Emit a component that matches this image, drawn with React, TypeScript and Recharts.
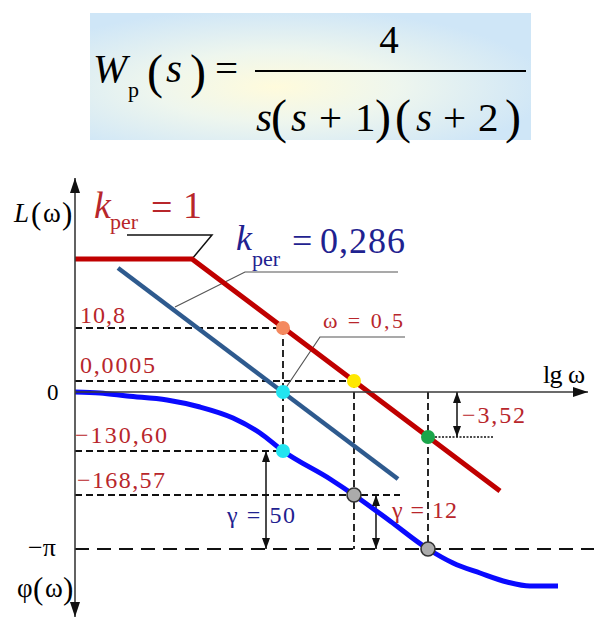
import React from 'react';
import { ComposedChart, Line, Scatter, ReferenceLine, XAxis, YAxis } from 'recharts';

// Schematic units: x runs along lg ω, y is the level on the shared L(ω)/φ(ω) axis.
const X_DOMAIN: [number, number] = [-7.5, 51.9];
const Y_DOMAIN: [number, number] = [-22.7, 39.2];

// Characteristic frequencies (lg ω positions)
const W_CUT = 20.8; // crossover of the k = 0,286 characteristic
const W_HALF = 27.9; // ω = 0,5
const W_PI = 35.3; // phase reaches −π

// Characteristic levels
const L_108 = 6.4;
const L_0005 = 1.1;
const L_M352 = -4.5;
const P_13060 = -5.9;
const P_16857 = -10.3;
const P_PI = -15.7;

// Asymptotic LAFC for k = 1
const lafcK1 = [
  { x: 0, y: 13.3 },
  { x: 11.7, y: 13.3 },
  { x: 42.5, y: -9.9 },
];

// Asymptotic LAFC for k = 0,286
const lafcK0286 = [
  { x: 4.3, y: 12.4 },
  { x: 32.3, y: -8.7 },
];

// Phase characteristic φ(ω)
const phase = [
  { x: 0, y: 0 },
  { x: 2.5, y: -0.1 },
  { x: 5.2, y: -0.4 },
  { x: 9.2, y: -0.8 },
  { x: 12.5, y: -1.5 },
  { x: 15.8, y: -2.6 },
  { x: 18.5, y: -4.1 },
  { x: W_CUT, y: P_13060 },
  { x: 25.5, y: -8.7 },
  { x: W_HALF, y: P_16857 },
  { x: 31.5, y: -12.9 },
  { x: W_PI, y: P_PI },
  { x: 37.8, y: -17.1 },
  { x: 40.5, y: -18.1 },
  { x: 43.2, y: -19.0 },
  { x: 45.5, y: -19.4 },
  { x: 48.3, y: -19.4 },
];

// Marked points
const markers = [
  { x: W_CUT, y: L_108, fill: '#f4895f', stroke: 'none' },
  { x: W_HALF, y: L_0005, fill: '#ffe800', stroke: 'none' },
  { x: W_CUT, y: 0, fill: '#22e4f0', stroke: 'none' },
  { x: W_CUT, y: P_13060, fill: '#22e4f0', stroke: 'none' },
  { x: W_PI, y: L_M352, fill: '#1ba54a', stroke: 'none' },
  { x: W_HALF, y: P_16857, fill: '#ababab', stroke: '#333' },
  { x: W_PI, y: P_PI, fill: '#ababab', stroke: '#333' },
];

// Axis extents
const AXIS_TOP = 21.4;
const AXIS_BOTTOM = -22.5;
const AXIS_RIGHT = 51.3;

// Dimension arrows (x positions)
const DIM_352 = 38.2;
const DIM_GAMMA50 = 19.1;
const DIM_GAMMA12 = 30.1;

// Arrow tips; dir in screen degrees (0 = right, 90 = down, -90 = up)
const arrowTips = [
  { x: 0, y: AXIS_TOP, dir: -90, kind: 'axis' },
  { x: 0, y: AXIS_BOTTOM, dir: 90, kind: 'axis' },
  { x: AXIS_RIGHT, y: 0, dir: 0, kind: 'axis' },
  { x: DIM_352, y: 0, dir: -90, kind: 'dim' },
  { x: DIM_352, y: L_M352, dir: 90, kind: 'dim' },
  { x: DIM_GAMMA50, y: P_13060, dir: -90, kind: 'dim' },
  { x: DIM_GAMMA50, y: P_PI, dir: 90, kind: 'dim' },
  { x: DIM_GAMMA12, y: P_16857, dir: -90, kind: 'dim' },
  { x: DIM_GAMMA12, y: P_PI, dir: 90, kind: 'dim' },
];

// Callout leaders
const leaderK1 = [
  { x: 5.2, y: 15.7 },
  { x: 13.7, y: 15.7 },
  { x: 11.7, y: 13.3 },
];
const leaderK0286 = [
  { x: 10.0, y: 8.5 },
  { x: 17.0, y: 12.0 },
  { x: 32.3, y: 12.0 },
];
const leaderOmega = [
  { x: W_CUT, y: 0 },
  { x: 24.5, y: 5.5 },
  { x: 33.0, y: 5.5 },
];

const RED = '#c00000';
const RED_TEXT = '#b8262b';
const NAVY_TEXT = '#1f2290';
const SERIF = "'Liberation Serif', 'Times New Roman', Times, serif";

const ARROW_SIZE: Record<string, { len: number; half: number }> = {
  axis: { len: 15, half: 5 },
  dim: { len: 11, half: 4 },
};

const Arrowhead = (props: any) => {
  const { cx, cy, payload } = props;
  if (cx == null || cy == null) return null;
  const a = (payload.dir * Math.PI) / 180;
  const { len, half } = ARROW_SIZE[payload.kind];
  const bx = cx - Math.cos(a) * len;
  const by = cy - Math.sin(a) * len;
  const px = -Math.sin(a) * half;
  const py = Math.cos(a) * half;
  return (
    <polygon
      points={`${cx},${cy} ${bx + px},${by + py} ${bx - px},${by - py}`}
      fill="#111"
    />
  );
};

const Marker = (props: any) => {
  const { cx, cy, payload } = props;
  if (cx == null || cy == null) return null;
  return (
    <circle
      cx={cx}
      cy={cy}
      r={7}
      fill={payload.fill}
      stroke={payload.stroke}
      strokeWidth={payload.stroke === 'none' ? 0 : 1.6}
    />
  );
};

const dashed = { stroke: '#111', strokeWidth: 1.8, strokeDasharray: '7 4' };

const Formula = () => (
  <g fill="#000">
    <defs>
      <radialGradient id="formulaBg" cx="42%" cy="58%" r="62%">
        <stop offset="0%" stopColor="#fffbdc" />
        <stop offset="45%" stopColor="#eef6ee" />
        <stop offset="100%" stopColor="#cfe6f7" />
      </radialGradient>
    </defs>
    <rect x={90} y={13} width={441} height={127} fill="url(#formulaBg)" />
    <text x={93} y={82} fontSize={41} fontStyle="italic">W</text>
    <text x={128} y={97} fontSize={22}>p</text>
    <text x={147} y={88} fontSize={48}>(</text>
    <text x={166} y={82} fontSize={41} fontStyle="italic">s</text>
    <text x={190} y={88} fontSize={48}>)</text>
    <text x={215} y={82} fontSize={41}>=</text>
    <text x={389} y={53} fontSize={39} textAnchor="middle">4</text>
    <line x1={255} y1={71} x2={526} y2={71} stroke="#000" strokeWidth={2} />
    <text x={256} y={131} fontSize={41} fontStyle="italic">s</text>
    <text x={271} y={133} fontSize={48}>(</text>
    <text x={291} y={131} fontSize={41} fontStyle="italic">s</text>
    <text x={319} y={131} fontSize={41}>+</text>
    <text x={355} y={131} fontSize={41}>1</text>
    <text x={375} y={133} fontSize={48}>)</text>
    <text x={395} y={133} fontSize={48}>(</text>
    <text x={416} y={131} fontSize={41} fontStyle="italic">s</text>
    <text x={443} y={131} fontSize={41}>+</text>
    <text x={478} y={131} fontSize={41}>2</text>
    <text x={505} y={133} fontSize={48}>)</text>
  </g>
);

const Labels = () => (
  <g>
    {/* axis names */}
    <text x={14} y={222} fontSize={27} fontStyle="italic">L</text>
    <text x={31} y={224} fontSize={31}>(</text>
    <text x={43} y={222} fontSize={27}>ω</text>
    <text x={62} y={224} fontSize={31}>)</text>
    <text x={17} y={597} fontSize={27}>φ</text>
    <text x={33} y={599} fontSize={31}>(</text>
    <text x={45} y={597} fontSize={27}>ω</text>
    <text x={63} y={599} fontSize={31}>)</text>
    <text x={28} y={556} fontSize={26}>−π</text>
    <text x={47} y={400} fontSize={23}>0</text>
    <text x={543} y={383} fontSize={26} textLength={42} lengthAdjust="spacing">lg ω</text>

    {/* gain labels */}
    <g fill={RED_TEXT}>
      <text x={94} y={218} fontSize={38} fontStyle="italic">k</text>
      <text x={110} y={229} fontSize={22}>per</text>
      <text x={151} y={220} fontSize={38}>=</text>
      <text x={183} y={218} fontSize={38}>1</text>
    </g>
    <g fill={NAVY_TEXT}>
      <text x={236} y={250} fontSize={36} fontStyle="italic">k</text>
      <text x={252} y={266} fontSize={22}>per</text>
      <text x={292} y={253} fontSize={36}>=</text>
      <text x={320} y={253} fontSize={36} textLength={85} lengthAdjust="spacing">0,286</text>
    </g>

    {/* level values */}
    <g fill={RED_TEXT} fontSize={24}>
      <text x={80} y={323} textLength={45} lengthAdjust="spacing">10,8</text>
      <text x={80} y={373} textLength={75} lengthAdjust="spacing">0,0005</text>
      <text x={75} y={443} textLength={92} lengthAdjust="spacing">−130,60</text>
      <text x={77} y={488} textLength={88} lengthAdjust="spacing">−168,57</text>
      <text x={462} y={423} textLength={63} lengthAdjust="spacing">−3,52</text>
      <text x={392} y={518} textLength={65} lengthAdjust="spacing">γ = 12</text>
      <text x={323} y={328} fontSize={22} textLength={80} lengthAdjust="spacing">ω = 0,5</text>
    </g>
    <text x={227} y={523} fontSize={24} fill={NAVY_TEXT} textLength={68} lengthAdjust="spacing">
      γ = 50
    </text>
  </g>
);

export default function App() {
  return (
    <div style={{ position: 'absolute', left: 0, top: 0, width: 594, height: 619, background: '#fff' }}>
      <ComposedChart width={594} height={619} margin={{ top: 0, right: 0, bottom: 0, left: 0 }}>
        <XAxis type="number" dataKey="x" domain={X_DOMAIN} hide allowDataOverflow />
        <YAxis type="number" dataKey="y" domain={Y_DOMAIN} hide allowDataOverflow />

        {/* projection lines */}
        <ReferenceLine segment={[{ x: 0, y: L_108 }, { x: W_CUT, y: L_108 }]} {...dashed} />
        <ReferenceLine segment={[{ x: W_CUT, y: L_108 }, { x: W_CUT, y: P_13060 }]} {...dashed} />
        <ReferenceLine segment={[{ x: 0, y: L_0005 }, { x: W_HALF, y: L_0005 }]} {...dashed} />
        <ReferenceLine segment={[{ x: W_HALF, y: L_0005 }, { x: W_HALF, y: P_PI }]} {...dashed} />
        <ReferenceLine segment={[{ x: 0, y: P_13060 }, { x: W_CUT, y: P_13060 }]} {...dashed} />
        <ReferenceLine segment={[{ x: 0, y: P_16857 }, { x: 32.5, y: P_16857 }]} {...dashed} />
        <ReferenceLine segment={[{ x: W_PI, y: 0 }, { x: W_PI, y: P_PI }]} {...dashed} />
        <ReferenceLine
          segment={[{ x: 0, y: P_PI }, { x: X_DOMAIN[1], y: P_PI }]}
          stroke="#111"
          strokeWidth={1.8}
          strokeDasharray="14 8"
        />
        <ReferenceLine
          segment={[{ x: W_PI, y: L_M352 }, { x: 41.8, y: L_M352 }]}
          stroke="#111"
          strokeWidth={1.6}
          strokeDasharray="2 1.5"
        />

        {/* dimension arrows */}
        <ReferenceLine segment={[{ x: DIM_352, y: 0 }, { x: DIM_352, y: L_M352 }]} stroke="#111" strokeWidth={1.5} />
        <ReferenceLine segment={[{ x: DIM_GAMMA50, y: P_13060 }, { x: DIM_GAMMA50, y: P_PI }]} stroke="#111" strokeWidth={1.5} />
        <ReferenceLine segment={[{ x: DIM_GAMMA12, y: P_16857 }, { x: DIM_GAMMA12, y: P_PI }]} stroke="#111" strokeWidth={1.5} />

        {/* callout leaders */}
        <Line data={leaderK1} dataKey="y" type="linear" stroke="#111" strokeWidth={1.5} dot={false} activeDot={false} isAnimationActive={false} />
        <Line data={leaderK0286} dataKey="y" type="linear" stroke="#555" strokeWidth={1.2} dot={false} activeDot={false} isAnimationActive={false} />
        <Line data={leaderOmega} dataKey="y" type="linear" stroke="#555" strokeWidth={1.2} dot={false} activeDot={false} isAnimationActive={false} />

        {/* characteristics */}
        <Line data={lafcK0286} dataKey="y" type="linear" stroke="#2e5a8e" strokeWidth={4.5} dot={false} activeDot={false} isAnimationActive={false} />
        <Line data={lafcK1} dataKey="y" type="linear" stroke={RED} strokeWidth={5} dot={false} activeDot={false} isAnimationActive={false} />
        <Line data={phase} dataKey="y" type="monotone" stroke="#0a0aff" strokeWidth={5} dot={false} activeDot={false} isAnimationActive={false} />

        {/* coordinate axes */}
        <ReferenceLine segment={[{ x: 0, y: AXIS_BOTTOM }, { x: 0, y: AXIS_TOP }]} stroke="#3a3a3a" strokeWidth={1.6} />
        <ReferenceLine segment={[{ x: 0, y: 0 }, { x: AXIS_RIGHT, y: 0 }]} stroke="#3a3a3a" strokeWidth={1.6} />

        <Scatter data={arrowTips} dataKey="y" shape={Arrowhead} isAnimationActive={false} />
        <Scatter data={markers} dataKey="y" shape={Marker} isAnimationActive={false} />
      </ComposedChart>
      <svg
        width={594}
        height={619}
        style={{ position: 'absolute', left: 0, top: 0, pointerEvents: 'none', fontFamily: SERIF }}
      >
        <Formula />
        <Labels />
      </svg>
    </div>
  );
}
